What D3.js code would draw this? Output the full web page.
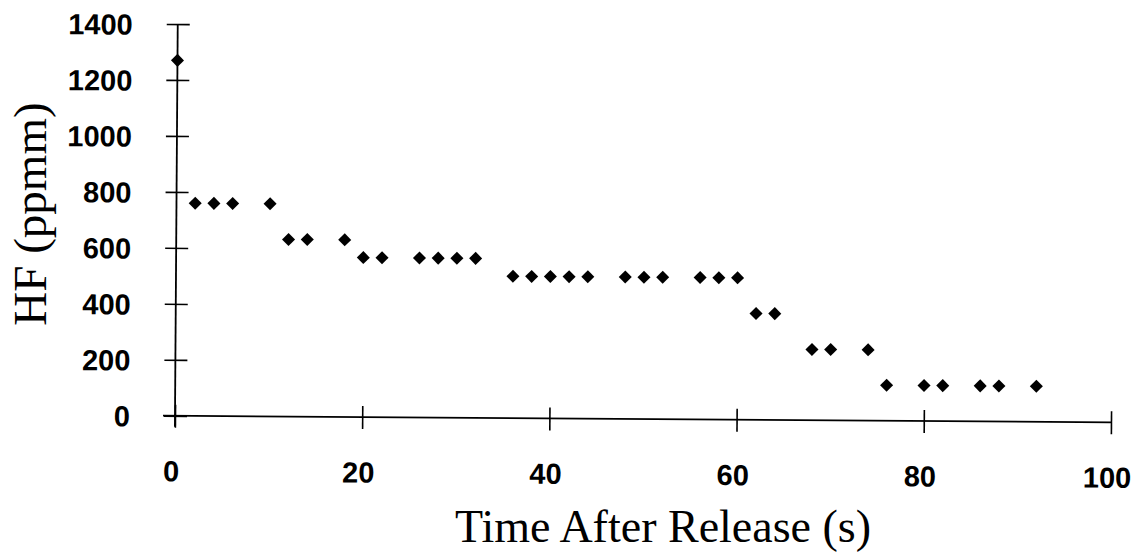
<!DOCTYPE html>
<html>
<head>
<meta charset="utf-8">
<script src="https://cdn.jsdelivr.net/npm/d3@7"></script>
<style>
  html, body { margin: 0; padding: 0; background: #fff; }
  svg { display: block; }
</style>
</head>
<body>
<svg id="chart" width="1134" height="555"></svg>
<script>
// ---- data ----
const times = [0, 2, 4, 6, 10, 12, 14, 18, 20, 22, 26, 28, 30, 32,
               36, 38, 40, 42, 44, 48, 50, 52, 56, 58, 60, 62, 64,
               68, 70, 74, 76, 80, 82, 86, 88, 92];
const hfValues = [1270, 760, 760, 760, 760, 633, 633, 633,
                  570, 570, 570, 570, 570, 570,
                  507, 507, 507, 507, 507, 507, 507, 507, 507, 507, 507,
                  380, 380, 253, 253, 253,
                  127, 127, 127, 127, 127, 127];
const xTickValues = [0, 20, 40, 60, 80, 100];
const yTickValues = [0, 200, 400, 600, 800, 1000, 1200, 1400];
const xTitle = "Time After Release (s)";
const yTitle = "HF (ppmm)";

// ---- layout ----
const svg = d3.select("#chart");
svg.append("rect").attr("width", 1134).attr("height", 555).attr("fill", "#fff");

const x = d3.scaleLinear().domain([0, 100]).range([175, 1111]);
const y = d3.scaleLinear().domain([0, 1400]).range([415.8, 24]);

const plot = svg.append("g")
  .attr("transform", `rotate(0.4, ${x(0)}, ${y(0)})`);

const tickFont = "'Liberation Sans', Arial, sans-serif";
const titleFont = "'Liberation Serif', 'Times New Roman', serif";
const fmt = d3.format("d");

function styleTickText(sel) {
  sel.attr("fill", "#000")
    .style("font-family", tickFont).style("font-weight", "bold").style("font-size", "29px");
}

// y axis
const yAxis = d3.axisLeft(y).tickValues(yTickValues).tickFormat(fmt).tickSize(0).tickPadding(0);
const yG = plot.append("g").attr("transform", `translate(${x(0)},0)`).call(yAxis);
yG.select(".domain").remove();
yG.selectAll(".tick line").remove();
yG.selectAll(".tick").append("line")
  .attr("x1", -11).attr("x2", 12)
  .attr("stroke", "#000").attr("stroke-width", 1.6);
yG.selectAll(".tick text")
  .attr("x", -45).attr("dy", "0.36em")
  .call(styleTickText);
yG.append("line")
  .attr("x1", 0).attr("x2", 0)
  .attr("y1", y(1400)).attr("y2", y(0) + 11)
  .attr("stroke", "#000").attr("stroke-width", 1.8);

// x axis
const xAxis = d3.axisBottom(x).tickValues(xTickValues).tickFormat(fmt).tickSize(0).tickPadding(0);
const xG = plot.append("g").attr("transform", `translate(0,${y(0)})`).call(xAxis);
xG.select(".domain").remove();
xG.selectAll(".tick line").remove();
xG.selectAll(".tick").append("line")
  .attr("y1", -11).attr("y2", 12)
  .attr("stroke", "#000").attr("stroke-width", 1.6);
xG.selectAll(".tick text")
  .attr("x", -4).attr("y", 55).attr("dy", "0.36em")
  .call(styleTickText);
xG.append("line")
  .attr("x1", x(0) - 12).attr("x2", x(100))
  .attr("y1", 0).attr("y2", 0)
  .attr("stroke", "#000").attr("stroke-width", 1.8);

// points (diamonds)
const pts = times.map((t, i) => ({ t, v: hfValues[i] }));
const diamond = d3.symbol().type(d3.symbolSquare).size(85);
plot.append("g").selectAll("path")
  .data(pts)
  .join("path")
  .attr("d", diamond)
  .attr("transform", d => `translate(${x(d.t)},${y(d.v)}) rotate(45)`)
  .attr("fill", "#000");

// titles
svg.append("text")
  .attr("x", 663).attr("y", 542)
  .attr("text-anchor", "middle")
  .style("font-family", titleFont).style("font-size", "46px")
  .attr("fill", "#000")
  .text(xTitle);

svg.append("text")
  .attr("transform", "translate(46,214) rotate(-90)")
  .attr("text-anchor", "middle")
  .style("font-family", titleFont).style("font-size", "47px")
  .attr("fill", "#000")
  .text(yTitle);
</script>
</body>
</html>
